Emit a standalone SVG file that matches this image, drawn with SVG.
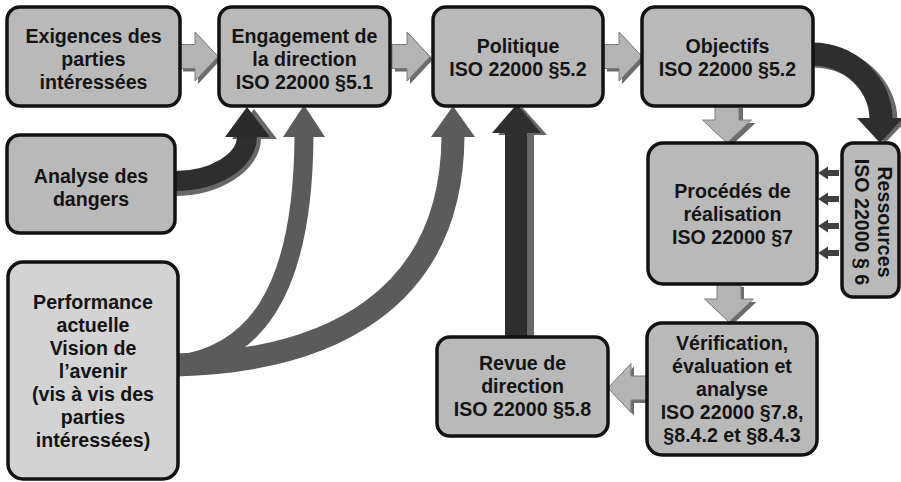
<svg xmlns="http://www.w3.org/2000/svg" width="901" height="482" viewBox="0 0 901 482">
  <defs>
    <style>
      .box { fill: #b9b9b9; stroke: #121212; stroke-width: 3.5; }
      .box.light { fill: #d3d3d3; }
      .lbl { font-family: "Liberation Sans", Arial, Helvetica, sans-serif; font-weight: bold; font-size: 19.6px; fill: #141414; text-anchor: middle; }
      .blk { fill: #b4b4b4; stroke: #7c7c7c; stroke-width: 1; }
      .blk-sh { fill: #6c6c6c; }
      .dark { fill: none; stroke: #2e2e2e; }
      .dark-sh { fill: none; stroke: #686868; }
      .mid { fill: none; stroke: #5b5b5b; }
    </style>
    <!-- right-pointing block arrow, tail centred on the origin -->
    <polygon id="blkArrow" points="0,-12 15,-12 15,-24.5 38,0 15,24.5 15,12 0,12"/>
    <!-- small resource arrow, pointing left, tip at origin -->
    <polygon id="tick" points="0,0 10,-6.5 10,-3 21,-3 21,3 10,3 10,6.5"/>
  </defs>

  <!-- connectors -->
  <g id="connectors">
    <!-- block arrows along the main chain (shadow then face) -->
    <use href="#blkArrow" class="blk-sh" transform="translate(183,59.5)"/>
    <use href="#blkArrow" class="blk" transform="translate(180,56.5)"/>
    <use href="#blkArrow" class="blk-sh" transform="translate(395,59.5)"/>
    <use href="#blkArrow" class="blk" transform="translate(392,56.5)"/>
    <use href="#blkArrow" class="blk-sh" transform="translate(607,59.5)"/>
    <use href="#blkArrow" class="blk" transform="translate(604,56.5)"/>
    <use href="#blkArrow" class="blk-sh" transform="translate(731,108) rotate(90)"/>
    <use href="#blkArrow" class="blk" transform="translate(727,105) rotate(90)"/>
    <use href="#blkArrow" class="blk-sh" transform="translate(732,287) rotate(90)"/>
    <use href="#blkArrow" class="blk" transform="translate(729,284) rotate(90)"/>
    <use href="#blkArrow" class="blk-sh" transform="translate(649,391) rotate(180)"/>
    <use href="#blkArrow" class="blk" transform="translate(646,388) rotate(180)"/>

    <!-- Analyse des dangers -> Engagement -->
    <path class="dark-sh" stroke-width="20" d="M175,186 C215,186 251,164 251,138"/>
    <polygon fill="#686868" points="232,139 254,109 277,139"/>
    <path class="dark" stroke-width="20" d="M175,181 C213,181 247,162 247,136"/>
    <polygon fill="#2a2a2a" points="225,137 247,107 270,137"/>

    <!-- Performance / vision -> Engagement and Politique -->
    <path class="mid" stroke-width="19" d="M176,365 C250,355 303,300 304,136"/>
    <polygon fill="#5b5b5b" points="283,137 304,105 325,137"/>
    <path class="mid" stroke-width="23" d="M176,365 C330,361 452,300 453,136"/>
    <polygon fill="#5b5b5b" points="431,137 453,106 475,137"/>

    <!-- Revue de direction -> Politique -->
    <rect x="526" y="134" width="8" height="204" fill="#686868"/>
    <polygon fill="#686868" points="498,135 522,107 547,135"/>
    <rect x="505" y="132" width="22" height="206" fill="#2e2e2e"/>
    <polygon fill="#2e2e2e" points="492,133 517,104 541,133"/>

    <!-- Objectifs -> Ressources -->
    <path class="dark-sh" stroke-width="23" d="M812,56 C853,56 886,86 886,121"/>
    <polygon fill="#686868" points="862,120 885,143 907,120"/>
    <path class="dark" stroke-width="23" d="M812,54 C850,54 881,84 881,120"/>
    <polygon fill="#2e2e2e" points="857,118 880,143 903,118"/>

    <!-- Ressources -> Procédés de réalisation -->
    <g fill="#404040">
      <use href="#tick" transform="translate(818,173)"/>
      <use href="#tick" transform="translate(818,199)"/>
      <use href="#tick" transform="translate(818,226)"/>
      <use href="#tick" transform="translate(818,253)"/>
    </g>
  </g>

  <!-- nodes -->
  <g id="exigences">
    <rect class="box" x="7" y="7" width="173" height="99" rx="13"/>
    <text class="lbl" x="93.5" y="43">Exigences des</text>
    <text class="lbl" x="93.5" y="66">parties</text>
    <text class="lbl" x="93.5" y="89">intéressées</text>
  </g>

  <g id="engagement">
    <rect class="box" x="219" y="7" width="171" height="99" rx="13"/>
    <text class="lbl" x="304.5" y="43">Engagement de</text>
    <text class="lbl" x="304.5" y="66">la direction</text>
    <text class="lbl" x="304.5" y="89">ISO 22000 §5.1</text>
  </g>

  <g id="politique">
    <rect class="box" x="433" y="7" width="170" height="99" rx="13"/>
    <text class="lbl" x="518" y="53">Politique</text>
    <text class="lbl" x="518" y="76">ISO 22000 §5.2</text>
  </g>

  <g id="objectifs">
    <rect class="box" x="642" y="7" width="171" height="99" rx="13"/>
    <text class="lbl" x="727.5" y="53">Objectifs</text>
    <text class="lbl" x="727.5" y="76">ISO 22000 §5.2</text>
  </g>

  <g id="analyse">
    <rect class="box" x="7" y="135" width="168" height="98" rx="13"/>
    <text class="lbl" x="91" y="183">Analyse des</text>
    <text class="lbl" x="91" y="206">dangers</text>
  </g>

  <g id="performance">
    <rect class="box light" x="8" y="262" width="170" height="217" rx="15"/>
    <text class="lbl" x="93" y="309">Performance</text>
    <text class="lbl" x="93" y="332">actuelle</text>
    <text class="lbl" x="93" y="355">Vision de</text>
    <text class="lbl" x="93" y="378">l’avenir</text>
    <text class="lbl" x="93" y="401">(vis à vis des</text>
    <text class="lbl" x="93" y="424">parties</text>
    <text class="lbl" x="93" y="447">intéressées)</text>
  </g>

  <g id="procedes">
    <rect class="box" x="648" y="143" width="169" height="141" rx="15"/>
    <text class="lbl" x="732.5" y="198">Procédés de</text>
    <text class="lbl" x="732.5" y="221">réalisation</text>
    <text class="lbl" x="732.5" y="244">ISO 22000 §7</text>
  </g>

  <g id="ressources">
    <rect class="box" x="842" y="143" width="57" height="154" rx="11"/>
    <g transform="translate(866,222) rotate(90)">
      <text class="lbl" x="0" y="-12">Ressources</text>
      <text class="lbl" x="0" y="11">ISO 22000 § 6</text>
    </g>
  </g>

  <g id="verification">
    <rect class="box" x="647" y="323" width="170" height="132" rx="15"/>
    <text class="lbl" x="732" y="350">Vérification,</text>
    <text class="lbl" x="732" y="373">évaluation et</text>
    <text class="lbl" x="732" y="396">analyse</text>
    <text class="lbl" x="732" y="419">ISO 22000 §7.8,</text>
    <text class="lbl" x="732" y="442">§8.4.2 et §8.4.3</text>
  </g>

  <g id="revue">
    <rect class="box" x="437" y="337" width="171" height="99" rx="13"/>
    <text class="lbl" x="522.5" y="370">Revue de</text>
    <text class="lbl" x="522.5" y="393">direction</text>
    <text class="lbl" x="522.5" y="416">ISO 22000 §5.8</text>
  </g>
</svg>
